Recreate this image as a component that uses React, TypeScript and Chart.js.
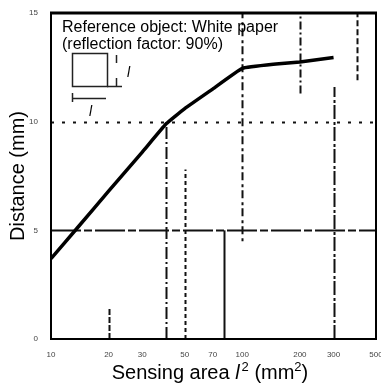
import React, { useEffect, useRef } from "react";
import { Chart, registerables } from "chart.js";

Chart.register(...registerables);

// ---- data ----
const areaValues = [10, 14, 20, 30, 40, 50, 70, 100, 150, 200, 300];
const distanceValues = [3.7, 5.2, 6.8, 8.6, 9.9, 10.6, 11.5, 12.45, 12.65, 12.75, 12.95];
const xTickValues = [10, 20, 30, 50, 70, 100, 200, 300, 500];
const xTickLabels = ["10", "20", "30", "50", "70", "100", "200", "300", "500"];
const yTickValues = [0, 5, 10, 15];
const yTickLabels = ["0", "5", "10", "15"];
const seriesLabel = "White paper";
const noteLines = ["Reference object: White paper", "(reflection factor: 90%)"];
const yTitle = "Distance (mm)";
const xTitleParts = ["Sensing area ", "l", "2", " (mm", "2", ")"];

// vertical grid segments (x value, from distance, to distance)
const vGridX = [20, 40, 50, 80, 100, 200, 300, 400];
const vGridFrom = [0, 0, 0, 0, 4.5, 11.3, 0, 11.9];
const vGridTo = [1.4, 10, 7.8, 5, 15, 15, 11.6, 15];
// horizontal grid lines (distance values)
const hGridY = [5, 10];

// ---- styles ----
const FONT = "Arial, 'Liberation Sans', sans-serif";
const vDash = [[6, 2], [12, 3, 2, 3], [4, 3], [], [3, 4, 8, 3], [8, 3, 2, 3], [14, 2, 3, 3], [6, 3]];
const hDash = [[30, 3, 8, 3], [3, 8]];

const decoPlugin = {
  id: "deco",
  beforeDatasetsDraw(chart: any) {
    const { ctx, chartArea: a, scales } = chart;
    const xs = scales.x, ys = scales.y;
    ctx.save();
    ctx.strokeStyle = "#111";
    vGridX.forEach((xv, i) => {
      const px = Math.round(xs.getPixelForValue(xv)) + 0.5;
      ctx.lineWidth = 2;
      ctx.setLineDash(vDash[i]);
      ctx.beginPath();
      ctx.moveTo(px, ys.getPixelForValue(vGridFrom[i]));
      ctx.lineTo(px, ys.getPixelForValue(vGridTo[i]));
      ctx.stroke();
    });
    hGridY.forEach((yv, i) => {
      const py = Math.round(ys.getPixelForValue(yv)) + 0.5;
      ctx.lineWidth = 2;
      ctx.setLineDash(hDash[i]);
      ctx.beginPath();
      ctx.moveTo(a.left, py);
      ctx.lineTo(a.right, py);
      ctx.stroke();
    });
    ctx.setLineDash([]);
    ctx.restore();
  },
  afterDraw(chart: any) {
    const { ctx, chartArea: a } = chart;
    ctx.save();
    ctx.strokeStyle = "#000";
    ctx.fillStyle = "#000";
    // frame
    ctx.lineWidth = 2;
    ctx.beginPath();
    ctx.moveTo(a.left, a.top);
    ctx.lineTo(a.left, a.bottom);
    ctx.lineTo(a.right, a.bottom);
    ctx.lineTo(a.right, a.top);
    ctx.stroke();
    ctx.lineWidth = 3;
    ctx.beginPath();
    ctx.moveTo(a.left - 1, a.top);
    ctx.lineTo(a.right + 1, a.top);
    ctx.stroke();

    // note text
    ctx.font = `16px ${FONT}`;
    ctx.textBaseline = "alphabetic";
    ctx.textAlign = "left";
    ctx.fillText(noteLines[0], a.left + 11, a.top + 19);
    ctx.fillText(noteLines[1], a.left + 11, a.top + 36);

    // reference object icon
    const ox = a.left + 21, oy = a.top + 40;
    ctx.lineWidth = 1.5;
    ctx.strokeStyle = "#222";
    ctx.strokeRect(ox + 0.5, oy + 0.5, 35, 33);
    ctx.beginPath();
    ctx.moveTo(ox + 35, oy + 33.5);
    ctx.lineTo(ox + 50, oy + 33.5);
    ctx.moveTo(ox + 44.5, oy + 2);
    ctx.lineTo(ox + 44.5, oy + 10);
    ctx.moveTo(ox + 44.5, oy + 25);
    ctx.lineTo(ox + 44.5, oy + 33);
    ctx.moveTo(ox + 0.5, oy + 40);
    ctx.lineTo(ox + 0.5, oy + 49);
    ctx.moveTo(ox + 1, oy + 45.5);
    ctx.lineTo(ox + 34, oy + 45.5);
    ctx.stroke();
    ctx.font = `italic 14px ${FONT}`;
    ctx.fillText("l", ox + 55, oy + 24);
    ctx.fillText("l", ox + 17, oy + 63);

    // y title
    ctx.font = `20px ${FONT}`;
    ctx.textAlign = "center";
    ctx.textBaseline = "middle";
    ctx.save();
    ctx.translate(18, 176);
    ctx.rotate(-Math.PI / 2);
    ctx.fillText(yTitle, 0, 0);
    ctx.restore();

    // x title with italic l and superscripts
    const fonts = [
      `20px ${FONT}`,
      `italic 20px ${FONT}`,
      `13px ${FONT}`,
      `20px ${FONT}`,
      `13px ${FONT}`,
      `20px ${FONT}`,
    ];
    const raise = [0, 0, 8, 0, 8, 0];
    ctx.textAlign = "left";
    ctx.textBaseline = "alphabetic";
    let total = 0;
    xTitleParts.forEach((t, i) => {
      ctx.font = fonts[i];
      total += ctx.measureText(t).width + (i === 1 ? 2 : 0);
    });
    let x = 210 - total / 2;
    const baseY = 379;
    xTitleParts.forEach((t, i) => {
      ctx.font = fonts[i];
      ctx.fillText(t, x, baseY - raise[i]);
      x += ctx.measureText(t).width + (i === 1 ? 2 : 0);
    });
    ctx.restore();
  },
};

export default function App() {
  const ref = useRef<HTMLCanvasElement>(null);
  useEffect(() => {
    const canvas = ref.current;
    if (!canvas) return;
    const chart = new Chart(canvas, {
      type: "line",
      data: {
        datasets: [
          {
            label: seriesLabel,
            data: areaValues.map((x, i) => ({ x, y: distanceValues[i] })),
            borderColor: "#000",
            borderWidth: 3.5,
            pointRadius: 0,
            tension: 0.1,
            fill: false,
          },
        ],
      },
      options: {
        responsive: false,
        animation: false,
        layout: { padding: { left: 0, top: 13, right: 5, bottom: 0 } },
        plugins: { legend: { display: false }, tooltip: { enabled: false } },
        scales: {
          x: {
            type: "logarithmic",
            min: 10,
            max: 500,
            grid: { display: false },
            border: { display: false },
            afterBuildTicks: (s: any) => {
              s.ticks = xTickValues.map((v) => ({ value: v }));
            },
            afterFit: (s: any) => {
              s.height = 46;
              s.paddingLeft = 0;
              s.paddingRight = 0;
            },
            ticks: {
              autoSkip: false,
              maxRotation: 0,
              padding: 3,
              color: "#444",
              font: { size: 8, family: FONT },
              callback: (_v: any, i: number) => xTickLabels[i],
            },
          },
          y: {
            type: "linear",
            min: 0,
            max: 15,
            grid: { display: false },
            border: { display: false },
            afterBuildTicks: (s: any) => {
              s.ticks = yTickValues.map((v) => ({ value: v }));
            },
            afterFit: (s: any) => {
              s.width = 51;
              s.paddingTop = 0;
              s.paddingBottom = 0;
            },
            ticks: {
              padding: 5,
              color: "#444",
              font: { size: 8, family: FONT },
              callback: (_v: any, i: number) => yTickLabels[i],
            },
          },
        },
      },
      plugins: [decoPlugin],
    });
    return () => chart.destroy();
  }, []);
  return (
    <div style={{ position: "fixed", left: 0, top: 0, width: 381, height: 385, background: "#fff" }}>
      <canvas ref={ref} width={381} height={385} style={{ display: "block" }} />
    </div>
  );
}
